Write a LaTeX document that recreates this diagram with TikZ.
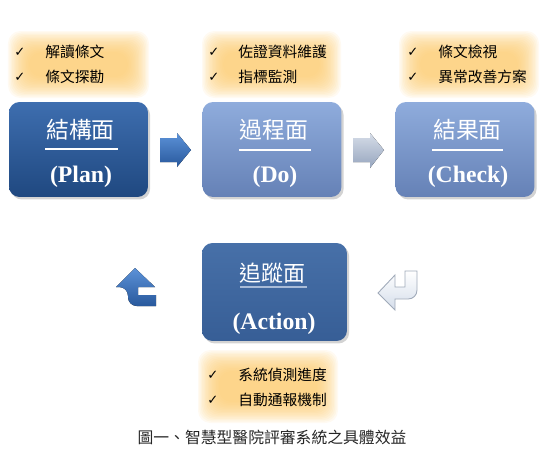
\documentclass[tikz,border=0pt]{standalone}
\usepackage{fontspec}
\setmainfont{Noto Sans CJK TC}
\newfontfamily\latinbf{Liberation Serif}
\newfontfamily\symfont{DejaVu Sans}
\usetikzlibrary{shadows,calc}
\definecolor{plantop}{HTML}{3E6EAF}
\definecolor{planbot}{HTML}{1F4880}
\definecolor{paletop}{HTML}{8FACDC}
\definecolor{palebot}{HTML}{6581B6}
\definecolor{acttop}{HTML}{4770A8}
\definecolor{actbot}{HTML}{375E96}
\definecolor{glowcol}{HTML}{FCC96A}
\definecolor{linecol}{HTML}{A9BCD8}
\definecolor{arrtop}{HTML}{5C92D8}
\definecolor{arrbot}{HTML}{28589C}
\definecolor{greytop}{HTML}{D6DDE8}
\definecolor{greybot}{HTML}{96A5BE}
\definecolor{rettop}{HTML}{FFFFFF}
\definecolor{retbot}{HTML}{D4DDEA}
\definecolor{retline}{HTML}{A0AAB9}

\begin{document}
\begin{tikzpicture}[x=0.02cm,y=-0.02cm,
    box/.style={rounded corners=6pt, minimum width=2.78cm, minimum height=1.9cm,
      drop shadow={shadow xshift=1.2pt, shadow yshift=-1.4pt, opacity=0.35}},
    head/.style={text=white, font=\fontsize{13}{15}\selectfont},
    tag/.style={text=white, font=\latinbf\bfseries\fontsize{13.5}{16}\selectfont},
    item/.style={anchor=west, inner sep=0pt, font=\fontsize{8.4}{10}\selectfont},
    tick/.style={anchor=west, inner sep=0pt, font=\symfont\fontsize{7.5}{10}\selectfont},
    glow/.style={fill=glowcol, fill opacity=0.09, rounded corners=7pt}]
  \useasboundingbox (0,0) rectangle (542,451);

  % Orange glow behind the lists
  \foreach \xa/\ya/\xb/\yb in {8/31/149/98, 202/31/341/98, 399/31/539/98, 198/350/338/423}
    \foreach \i in {0,...,15}
      \fill[glow] (\xa+\i*1.4,\ya+\i*1.4) rectangle (\xb-\i*1.4,\yb-\i*1.4);

  % Lists
  \node[tick] (t1a) at (14,52) {✓};
  \node[item] (i1a) at (45,52) {解讀條文};
  \node[tick] (t1b) at (14,77) {✓};
  \node[item] (i1b) at (45,77) {條文探勘};
  \node[tick] (t2a) at (208,52) {✓};
  \node[item] (i2a) at (238,52) {佐證資料維護};
  \node[tick] (t2b) at (208,77) {✓};
  \node[item] (i2b) at (238,77) {指標監測};
  \node[tick] (t3a) at (407,52) {✓};
  \node[item] (i3a) at (438,52) {條文檢視};
  \node[tick] (t3b) at (407,77) {✓};
  \node[item] (i3b) at (438,77) {異常改善方案};
  \node[tick] (t4a) at (207,375) {✓};
  \node[item] (i4a) at (238,375) {系統偵測進度};
  \node[tick] (t4b) at (207,400) {✓};
  \node[item] (i4b) at (238,400) {自動通報機制};

  % Boxes
  \node[box, top color=plantop, bottom color=planbot] (plan) at (78.5,149.5) {};
  \node[head] (planh) at (80.5,130) {結構面};
  \draw[white, line width=0.8pt] (45,149) -- (118,149);
  \node[tag] (plant) at (81,177) {(Plan)};

  \node[box, top color=paletop, bottom color=palebot] (do) at (272,149.5) {};
  \node[head] (doh) at (274,130) {過程面};
  \draw[white, line width=0.8pt] (239,150) -- (311,150);
  \node[tag] (dot) at (275,177) {(Do)};

  \node[box, top color=paletop, bottom color=palebot] (check) at (465,149.5) {};
  \node[head] (checkh) at (467.5,130) {結果面};
  \draw[white, line width=0.8pt] (432,150) -- (503,150);
  \node[tag] (checkt) at (468,177) {(Check)};

  \node[box, minimum width=2.9cm, minimum height=1.96cm,
        top color=acttop, bottom color=actbot] (act) at (274.5,292) {};
  \node[head, font=\fontsize{12.5}{15}\selectfont] (acth) at (272.5,273) {追蹤面};
  \draw[linecol, line width=1.2pt] (240,287) -- (307,287);
  \node[tag] (actt) at (274,324) {(Action)};

  % Arrows
  \fill[top color=arrtop, bottom color=arrbot]
    (160,138) -- (177,138) -- (177,133) -- (191,150) -- (177,167) -- (177,162) -- (160,162) -- cycle;
  \fill[top color=greytop, bottom color=greybot]
    (353,138) -- (370,138) -- (370,133) -- (384,150) -- (370,168) -- (370,162) -- (353,162) -- cycle;
  \fill[top color=arrtop, bottom color=arrbot]
    (135,268) -- (155,287) -- (138,287) -- (138,295) -- (156,295) -- (156,306) -- (138,306)
    [rounded corners=5pt] -- (128,306) -- (128,287) [sharp corners] -- (116,287) -- cycle;
  \draw[retline, line width=0.5pt, top color=rettop, bottom color=retbot]
    (378,293) -- (395,275) -- (395,287) -- (405,287) -- (405,271) -- (417,271)
    [rounded corners=5pt] -- (417,299) [sharp corners] -- (395,299) -- (395,310) -- cycle;

  % Caption
  \node[text=black!85, font=\fontsize{9}{11}\selectfont] (cap) at (272,437)
    {圖一、智慧型醫院評審系統之具體效益};
\end{tikzpicture}
\end{document}
